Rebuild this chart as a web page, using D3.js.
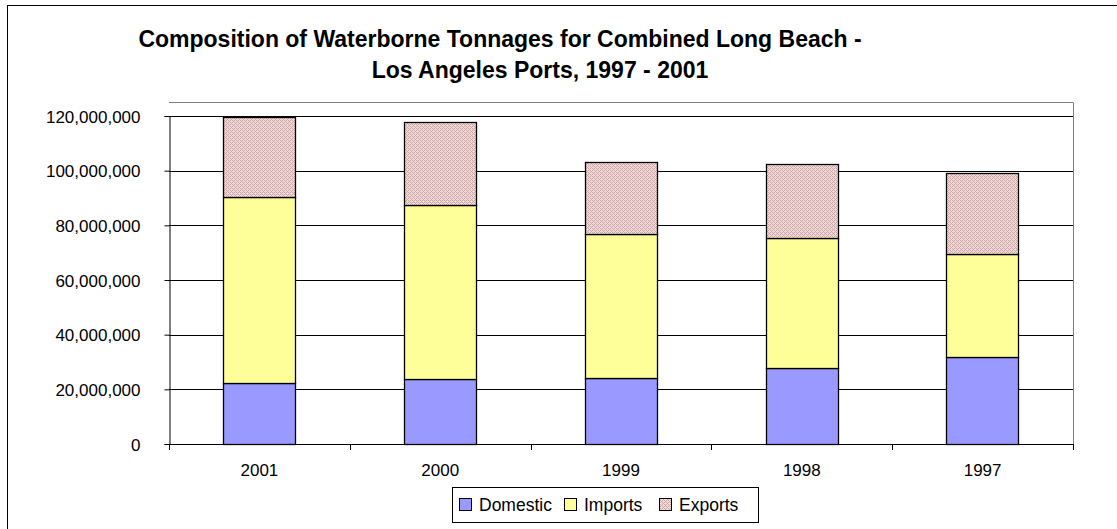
<!DOCTYPE html>
<html>
<head>
<meta charset="utf-8">
<script src="https://cdnjs.cloudflare.com/ajax/libs/d3/7.8.5/d3.min.js"></script>
<style>
  body { margin: 0; background: #fff; }
  text { font-family: Arial, "Liberation Sans", sans-serif; fill: #000; }
</style>
</head>
<body>
<script>
// values, in tonnes
var years = ["2001", "2000", "1999", "1998", "1997"];
var domestic = [22200000, 23600000, 24000000, 27700000, 31800000];
var imports = [68200000, 63800000, 53000000, 47500000, 37600000];
var exports = [29100000, 30400000, 26000000, 27100000, 29600000];
var seriesNames = ["Domestic", "Imports", "Exports"];
var yTicks = [0, 20000000, 40000000, 60000000, 80000000, 100000000, 120000000];

var W = 1117, H = 529;
var plot = { left: 169, top: 102, right: 1073, bottom: 444 };

var rows = years.map(function (y, i) {
    return { year: y, Domestic: domestic[i], Imports: imports[i], Exports: exports[i] };
});
var stacked = d3.stack().keys(seriesNames)(rows);

var svg = d3.select("body").append("svg")
    .attr("width", W)
    .attr("height", H);

var defs = svg.append("defs");
var pat = defs.append("pattern")
    .attr("id", "hatch")
    .attr("patternUnits", "userSpaceOnUse")
    .attr("width", 4).attr("height", 4);
pat.append("rect").attr("width", 4).attr("height", 4).attr("fill", "#eed9d9");
[[0, 0], [1, 1], [2, 2], [3, 3], [2, 0], [0, 2]].forEach(function (p) {
    pat.append("rect").attr("x", p[0]).attr("y", p[1]).attr("width", 1).attr("height", 1).attr("fill", "#cfa7a7");
});

var colors = { Domestic: "#9999ff", Imports: "#ffff99", Exports: "url(#hatch)" };

// outer chart border (only left/top visible in frame)
svg.append("rect")
    .attr("x", 7.5).attr("y", 5.5)
    .attr("width", W + 20).attr("height", H + 20)
    .attr("fill", "none").attr("stroke", "#000");

// title
svg.append("text")
    .attr("x", 500).attr("y", 47)
    .attr("text-anchor", "middle")
    .style("font-size", "23px").style("font-weight", "bold")
    .text("Composition of Waterborne Tonnages for Combined Long Beach -");
svg.append("text")
    .attr("x", 540).attr("y", 78)
    .attr("text-anchor", "middle")
    .style("font-size", "23px").style("font-weight", "bold")
    .text("Los Angeles Ports, 1997 - 2001");

var x = d3.scaleBand()
    .domain(years)
    .range([plot.left, plot.right])
    .paddingInner(0.6)
    .paddingOuter(0.3);

var y = d3.scaleLinear()
    .domain([0, 120000000])
    .range([plot.bottom, 116]);

// plot area border
svg.append("path")
    .attr("d", "M" + plot.left + "," + (plot.top + 0.5) + "H" + (plot.right + 0.5) + "V" + plot.bottom)
    .attr("fill", "none").attr("stroke", "#808080");

// gridlines
svg.append("g").selectAll("line")
    .data(yTicks.slice(1))
    .enter().append("line")
    .attr("x1", plot.left).attr("x2", plot.right)
    .attr("y1", function (d) { return Math.round(y(d)) + 0.5; })
    .attr("y2", function (d) { return Math.round(y(d)) + 0.5; })
    .attr("stroke", "#000");

// bars
svg.append("g").selectAll("g")
    .data(stacked)
    .enter().append("g")
    .attr("fill", function (d) { return colors[d.key]; })
    .selectAll("rect")
    .data(function (d) { return d; })
    .enter().append("rect")
    .attr("x", function (d) { return Math.round(x(d.data.year)) + 0.5; })
    .attr("width", Math.round(x.bandwidth()))
    .attr("y", function (d) { return Math.round(y(d[1])) + 0.5; })
    .attr("height", function (d) { return Math.round(y(d[0])) - Math.round(y(d[1])); })
    .attr("stroke", "#000")
    .attr("stroke-width", 1.3);

// y axis
var yAxis = d3.axisLeft(y)
    .tickValues(yTicks)
    .tickSize(5)
    .tickPadding(24)
    .tickFormat(d3.format(","));
var gy = svg.append("g")
    .attr("transform", "translate(" + (plot.left + 0.5) + ",0)")
    .call(yAxis);
gy.select(".domain").attr("stroke", "#000");
gy.selectAll(".tick line").attr("stroke", "#000");
gy.selectAll(".tick text")
    .style("font-size", "17px")
    .style("font-family", "Arial, 'Liberation Sans', sans-serif")
    .attr("dy", "0.36em");

// x axis
svg.append("line")
    .attr("x1", plot.left).attr("x2", plot.right + 1)
    .attr("y1", plot.bottom + 0.5).attr("y2", plot.bottom + 0.5)
    .attr("stroke", "#000");
var bounds = d3.range(years.length + 1).map(function (i) { return plot.left + i * x.step(); });
svg.append("g").selectAll("line")
    .data(bounds)
    .enter().append("line")
    .attr("x1", function (d) { return Math.round(d) + 0.5; })
    .attr("x2", function (d) { return Math.round(d) + 0.5; })
    .attr("y1", plot.bottom).attr("y2", plot.bottom + 6)
    .attr("stroke", "#000");
svg.append("g").selectAll("text")
    .data(years)
    .enter().append("text")
    .attr("x", function (d) { return x(d) + x.bandwidth() / 2; })
    .attr("y", 476)
    .attr("text-anchor", "middle")
    .style("font-size", "17px")
    .text(function (d) { return d; });

// legend
var legend = svg.append("g");
legend.append("rect")
    .attr("x", 452.5).attr("y", 487.5)
    .attr("width", 306).attr("height", 35)
    .attr("fill", "#fff").attr("stroke", "#000");
var legendX = [459, 564, 659];
seriesNames.forEach(function (name, i) {
    legend.append("rect")
        .attr("x", legendX[i] + 0.5).attr("y", 498.5)
        .attr("width", 12).attr("height", 12)
        .attr("fill", colors[name]).attr("stroke", "#000");
    legend.append("text")
        .attr("x", legendX[i] + 20).attr("y", 511)
        .style("font-size", "17.5px")
        .text(name);
});
</script>
</body>
</html>
